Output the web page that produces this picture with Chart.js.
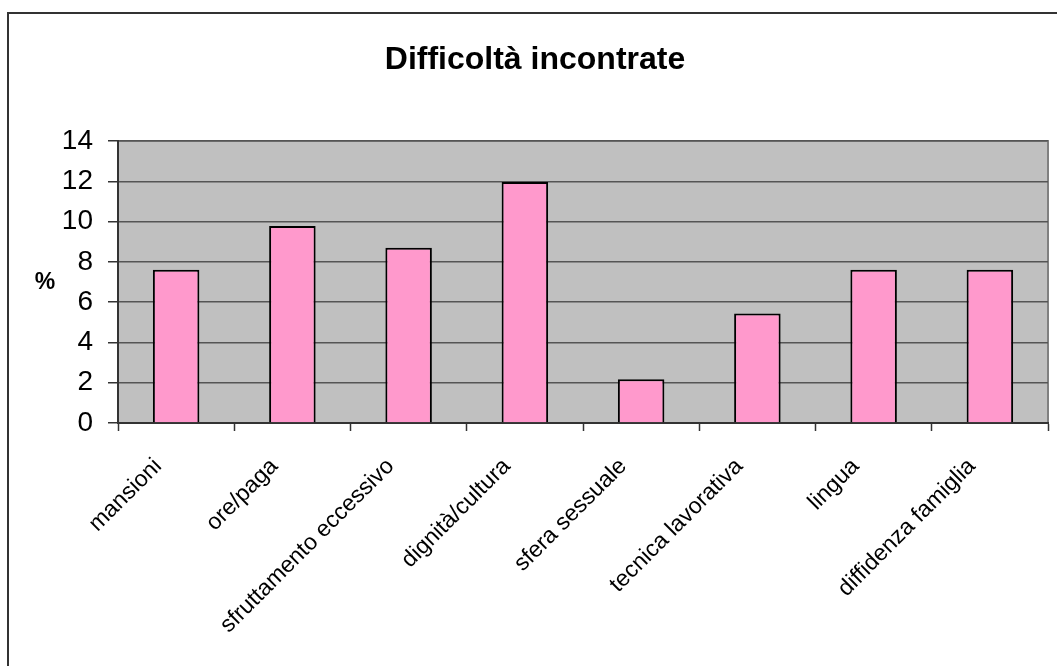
<!DOCTYPE html>
<html>
<head>
<meta charset="utf-8">
<script src="https://cdn.jsdelivr.net/npm/chart.js@4"></script>
<style>
  html, body { margin: 0; padding: 0; background: #fff; }
  #wrap { position: relative; width: 1057px; height: 666px; }
</style>
</head>
<body>
<div id="wrap"><canvas id="chartDifficolta"></canvas></div>
<script>
const categories = ["mansioni", "ore/paga", "sfruttamento eccessivo", "dignità/cultura",
  "sfera sessuale", "tecnica lavorativa", "lingua", "diffidenza famiglia"];
const percentuali = [7.61, 9.78, 8.70, 11.96, 2.17, 5.43, 7.61, 7.61];
const yTicks = [0, 2, 4, 6, 8, 10, 12, 14];

const fontName = "'Liberation Sans', Arial, sans-serif";

// grey plot area, frame and the "%" label
const sfondo = {
  id: "sfondo",
  beforeDraw(chart) {
    const ctx = chart.ctx;
    const a = chart.chartArea;
    ctx.save();
    // outer frame (only top and left fall inside the page)
    ctx.strokeStyle = "#333";
    ctx.lineWidth = 2;
    ctx.beginPath();
    ctx.moveTo(8, 700);
    ctx.lineTo(8, 13);
    ctx.lineTo(1100, 13);
    ctx.stroke();
    ctx.fillStyle = "#C0C0C0";
    ctx.fillRect(a.left, a.top, a.right - a.left, a.bottom - a.top);
    ctx.strokeStyle = "#808080";
    ctx.lineWidth = 2;
    ctx.strokeRect(a.left, a.top, a.right - a.left, a.bottom - a.top);
    ctx.fillStyle = "#000";
    ctx.font = "bold 23px " + fontName;
    ctx.textAlign = "center";
    ctx.textBaseline = "middle";
    ctx.fillText("%", 45, 283);
    ctx.restore();
  }
};

new Chart(document.getElementById("chartDifficolta"), {
  type: "bar",
  data: {
    labels: categories,
    datasets: [{
      data: percentuali,
      backgroundColor: "#FF99CC",
      borderColor: "#000",
      borderWidth: 2,
      barPercentage: 0.4,
      categoryPercentage: 1.0
    }]
  },
  options: {
    responsive: true,
    maintainAspectRatio: false,
    animation: false,
    layout: { padding: { left: 22, right: 9, top: 40, bottom: 0 } },
    plugins: {
      legend: { display: false },
      tooltip: { enabled: false },
      title: {
        display: true,
        text: "Difficoltà incontrate",
        color: "#000",
        font: { family: fontName, size: 32, weight: "bold" },
        padding: { top: 1, bottom: 61.6 }
      }
    },
    scales: {
      x: {
        grid: {
          offset: true,
          drawOnChartArea: false,
          drawTicks: true,
          tickLength: 8,
          tickColor: "#333",
          tickWidth: 1.5
        },
        border: { color: "#333", width: 2 },
        ticks: {
          minRotation: 45,
          maxRotation: 45,
          autoSkip: false,
          color: "#000",
          labelOffset: -18,
          padding: 22,
          font: { family: fontName, size: 23 }
        },
        afterFit(axis) { axis.height = 243; }
      },
      y: {
        min: 0,
        max: 14,
        afterBuildTicks(axis) { axis.ticks = yTicks.map(v => ({ value: v })); },
        grid: {
          color: "#555",
          lineWidth: 1.5,
          tickLength: 10,
          tickColor: "#333",
          drawTicks: true
        },
        border: { color: "#333", width: 2 },
        ticks: {
          color: "#000",
          padding: 15,
          font: { family: fontName, size: 28 }
        },
        afterFit(axis) { axis.width = 96; }
      }
    }
  },
  plugins: [sfondo]
});
</script>
</body>
</html>
